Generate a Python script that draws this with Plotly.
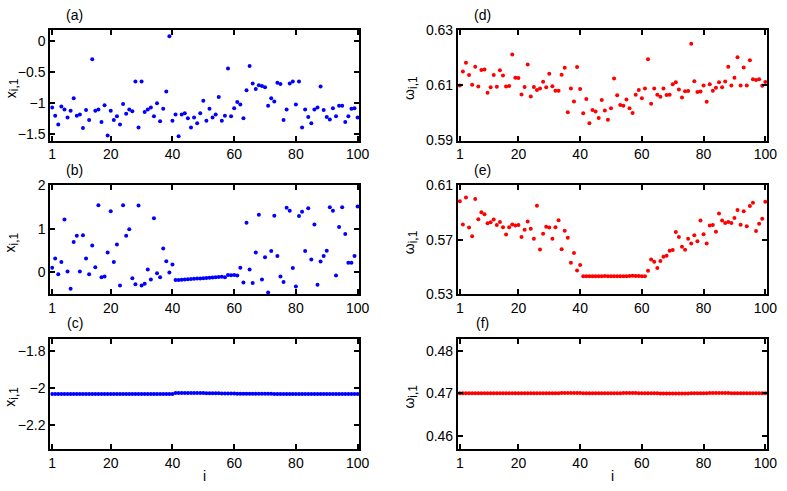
import plotly.graph_objects as go

idx = list(range(1, 101))

# (a) x_{i,1}
xa = [-1.07, -1.20, -1.34, -1.05, -1.10, -1.23, -1.12, -0.92, -1.20, -1.18,
      -1.40, -1.11, -1.27, -0.29, -1.12, -1.10, -1.30, -1.03, -1.52, -1.12,
      -1.27, -1.21, -1.34, -1.01, -1.17, -1.10, -1.13, -0.65, -1.39, -0.65,
      -1.14, -1.10, -1.07, -1.21, -1.00, -1.29, -1.09, -0.81, 0.08, -1.28,
      -1.18, -1.53, -1.18, -1.16, -1.24, -1.39, -1.23, -1.32, -1.16, -0.96,
      -1.28, -1.09, -1.23, -1.18, -0.90, -1.28, -1.20, -0.44, -1.21, -1.08,
      -0.98, -1.02, -1.24, -0.79, -0.40, -0.68, -0.77, -0.71, -0.72, -0.74,
      -1.04, -0.92, -0.97, -0.67, -0.69, -1.27, -1.10, -0.68, -0.65, -1.02,
      -0.65, -1.39, -1.10, -1.22, -1.32, -1.10, -1.07, -0.73, -1.11, -1.22,
      -1.26, -1.08, -1.21, -1.04, -1.04, -1.30, -1.21, -1.09, -1.08, -1.23]

# (b) x_{i,1}
xb = [0.11, 0.32, -0.04, 0.24, 1.21, 0.02, -0.37, 0.70, 0.84, 0.02,
      0.85, 0.32, -0.04, 0.62, 0.12, 1.54, -0.11, -0.09, 0.46, 1.40,
      0.24, 0.64, -0.30, 1.54, 0.84, 0.99, -0.13, -0.27, 1.53, -0.30,
      -0.26, 0.07, -0.16, 1.24, -0.02, -0.11, 0.55, 0.26, 0.00, 0.18,
      -0.17, -0.17, -0.165, -0.16, -0.155, -0.15, -0.145, -0.14, -0.135, -0.13,
      -0.125, -0.12, -0.115, -0.11, -0.105, -0.10, -0.11, -0.06, -0.065, -0.06,
      -0.07, 0.11, -0.23, 1.14, 0.07, -0.24, 0.46, 1.32, -0.16, 0.35,
      -0.46, 0.49, 1.30, 0.38, -0.09, -0.22, 1.48, 1.41, 0.10, -0.32,
      1.29, 1.39, 0.49, 1.47, 0.30, 1.10, -0.28, 0.25, 0.38, 0.50,
      1.49, 1.41, -0.07, 1.04, 1.49, 0.88, 0.22, 0.22, 0.38, 1.51]

# (c) x_{i,1}
xc = [-2.033, -2.033, -2.033, -2.033, -2.033, -2.033, -2.033, -2.033, -2.033, -2.033,
      -2.033, -2.033, -2.033, -2.033, -2.033, -2.033, -2.033, -2.033, -2.033, -2.033,
      -2.033, -2.033, -2.033, -2.033, -2.033, -2.033, -2.033, -2.033, -2.033, -2.033,
      -2.033, -2.033, -2.033, -2.033, -2.033, -2.033, -2.033, -2.033, -2.033, -2.033,
      -2.028, -2.027, -2.027, -2.027, -2.027, -2.028, -2.028, -2.028, -2.028, -2.028,
      -2.029, -2.029, -2.029, -2.029, -2.029, -2.030, -2.030, -2.030, -2.030, -2.030,
      -2.031, -2.031, -2.031, -2.031, -2.031, -2.031, -2.032, -2.032, -2.032, -2.032,
      -2.032, -2.032, -2.033, -2.033, -2.033, -2.033, -2.033, -2.033, -2.033, -2.033,
      -2.033, -2.033, -2.033, -2.033, -2.033, -2.033, -2.033, -2.033, -2.033, -2.033,
      -2.033, -2.033, -2.033, -2.033, -2.033, -2.033, -2.033, -2.033, -2.033, -2.033]

# (d) omega_{i,1}
wd = [0.6100, 0.6150, 0.6182, 0.6138, 0.6102, 0.6168, 0.6096, 0.6156, 0.6158, 0.6073,
      0.6093, 0.6138, 0.6095, 0.6155, 0.6136, 0.6096, 0.6098, 0.6212, 0.6128, 0.6127,
      0.6067, 0.6094, 0.6176, 0.6060, 0.6094, 0.6083, 0.6089, 0.6113, 0.6093, 0.6142,
      0.6097, 0.6081, 0.6081, 0.6139, 0.6164, 0.6003, 0.6089, 0.6042, 0.6167, 0.6087,
      0.5999, 0.6051, 0.5963, 0.6011, 0.6005, 0.5982, 0.6047, 0.6009, 0.5975, 0.6017,
      0.6125, 0.6064, 0.6029, 0.6026, 0.6049, 0.6017, 0.6000, 0.6066, 0.6083, 0.6053,
      0.6089, 0.6195, 0.6033, 0.6089, 0.6066, 0.6059, 0.6089, 0.6065, 0.6066, 0.6104,
      0.6111, 0.6085, 0.6056, 0.6079, 0.6080, 0.6251, 0.6115, 0.6076, 0.6078, 0.6100,
      0.6041, 0.6104, 0.6081, 0.6091, 0.6111, 0.6093, 0.6114, 0.6168, 0.6100, 0.6128,
      0.6202, 0.6100, 0.6165, 0.6100, 0.6191, 0.6122, 0.6120, 0.6122, 0.6099, 0.6112]

# (e) omega_{i,1}
we = [0.5982, 0.5811, 0.6008, 0.5790, 0.5726, 0.5998, 0.5849, 0.5901, 0.5887, 0.5821,
      0.5828, 0.5847, 0.5807, 0.5830, 0.5792, 0.5738, 0.5792, 0.5811, 0.5804, 0.5807,
      0.5719, 0.5773, 0.5833, 0.5780, 0.5707, 0.5949, 0.5629, 0.5743, 0.5795, 0.5790,
      0.5707, 0.5792, 0.5842, 0.5631, 0.5766, 0.5714, 0.5532, 0.5603, 0.5475, 0.5515,
      0.5433, 0.5433, 0.5433, 0.5433, 0.5433, 0.5433, 0.5433, 0.5434, 0.5433, 0.5433,
      0.5433, 0.5433, 0.5433, 0.5433, 0.5433, 0.5434, 0.5436, 0.5435, 0.5434, 0.5433,
      0.5433, 0.5473, 0.5556, 0.5539, 0.5492, 0.5544, 0.5575, 0.5582, 0.5620, 0.5624,
      0.5757, 0.5719, 0.5648, 0.5627, 0.5707, 0.5672, 0.5733, 0.5688, 0.5840, 0.5740,
      0.5672, 0.5804, 0.5807, 0.5759, 0.5892, 0.5840, 0.5823, 0.5830, 0.5823, 0.5859,
      0.5918, 0.5809, 0.5908, 0.5799, 0.5946, 0.5970, 0.5764, 0.5816, 0.5854, 0.5977]

# (f) omega_{i,1}
wf = [0.47000, 0.47000, 0.47000, 0.47000, 0.47000, 0.47000, 0.47000, 0.47000, 0.47000, 0.47000,
      0.47000, 0.47000, 0.47000, 0.47000, 0.47000, 0.47000, 0.47000, 0.47000, 0.47001, 0.47001,
      0.47001, 0.47001, 0.47001, 0.47001, 0.47001, 0.47001, 0.47001, 0.47001, 0.47001, 0.47002,
      0.47003, 0.47004, 0.47005, 0.47006, 0.47007, 0.47008, 0.47009, 0.47009, 0.47008, 0.47007,
      0.47005, 0.47004, 0.47003, 0.47003, 0.47003, 0.47003, 0.47003, 0.47003, 0.47004, 0.47004,
      0.47004, 0.47005, 0.47005, 0.47006, 0.47006, 0.47006, 0.47006, 0.47006, 0.47005, 0.47004,
      0.47003, 0.47002, 0.47001, 0.47000, 0.47000, 0.46999, 0.46999, 0.46999, 0.46999, 0.46999,
      0.46999, 0.46999, 0.46999, 0.46999, 0.46999, 0.47000, 0.47000, 0.47001, 0.47002, 0.47004,
      0.47005, 0.47006, 0.47007, 0.47008, 0.47008, 0.47008, 0.47007, 0.47006, 0.47005, 0.47004,
      0.47003, 0.47002, 0.47002, 0.47002, 0.47002, 0.47002, 0.47002, 0.47002, 0.47002, 0.47002]

xtick = [1, 20, 40, 60, 80, 100]

W, H = 787, 491
cols = {"L": (49, 363), "R": (463, 777)}
rows = [(23, 137), (183, 296), (342, 456)]

sub = "<sub><span style='font-size:12px'>i,1</span></sub>"
panels = [
    ("(a)", "L", 0, xa, "blue", [-1.6, 0.176], [0, -0.5, -1, -1.5], "x" + sub),
    ("(b)", "L", 1, xb, "blue", [-0.5, 2], [0, 1, 2], "x" + sub),
    ("(c)", "L", 2, xc, "blue", [-2.333, -1.733], [-1.8, -2, -2.2], "x" + sub),
    ("(d)", "R", 0, wd, "red", [0.59, 0.63], [0.59, 0.61, 0.63], "ω" + sub),
    ("(e)", "R", 1, we, "red", [0.53, 0.61], [0.53, 0.57, 0.61], "ω" + sub),
    ("(f)", "R", 2, wf, "red", [0.4568, 0.4829], [0.46, 0.47, 0.48], "ω" + sub),
]

fig = go.Figure()
font = dict(family="Liberation Sans, Arial, sans-serif", size=14, color="black")
ann = []
for k, (lab, col, r, ys, color, yr, yt, ytitle) in enumerate(panels):
    n = "" if k == 0 else str(k + 1)
    x0, x1 = cols[col]
    t, b = rows[r]
    fig.add_trace(go.Scatter(x=idx, y=ys, mode="markers", xaxis="x" + n, yaxis="y" + n,
                             marker=dict(size=4, color=color), showlegend=False))
    common = dict(showline=True, linecolor="black", linewidth=2, mirror="ticks",
                  ticks="inside", ticklen=5, tickwidth=1.5, tickcolor="black",
                  showgrid=False, zeroline=False, tickfont=font)
    fig.layout["xaxis" + n] = dict(domain=[x0 / W, x1 / W], anchor="y" + n, range=[0.4, 100.6],
                                   tickvals=xtick, ticklabeloverflow="allow", **common)
    fig.layout["yaxis" + n] = dict(domain=[1 - b / H, 1 - t / H], anchor="x" + n, range=yr,
                                   tickvals=yt, **common)
    ann.append(dict(text=lab, x=(x0 + 25) / W, y=1 - (t - 16) / H, xref="paper", yref="paper",
                    showarrow=False, font=font, xanchor="center", yanchor="middle"))
    lx = 10 if col == "L" else 415
    ann.append(dict(text=ytitle, x=lx / W, y=1 - ((t + b) / 2 + 3) / H, xref="paper", yref="paper",
                    showarrow=False, font=font, textangle=-90, xanchor="center", yanchor="middle"))
    if r == 2:
        ann.append(dict(text="i", x=((x0 + x1) / 2) / W, y=1 - 484 / H, xref="paper", yref="paper",
                        showarrow=False, font=font, xanchor="center", yanchor="middle"))

fig.update_layout(width=W, height=H, margin=dict(l=0, r=0, t=0, b=0),
                  plot_bgcolor="white", paper_bgcolor="white", annotations=ann, font=font)
fig.write_html("out.html", config={"displayModeBar": False},
               post_script="document.body.style.margin='0';document.body.style.overflow='hidden';")
